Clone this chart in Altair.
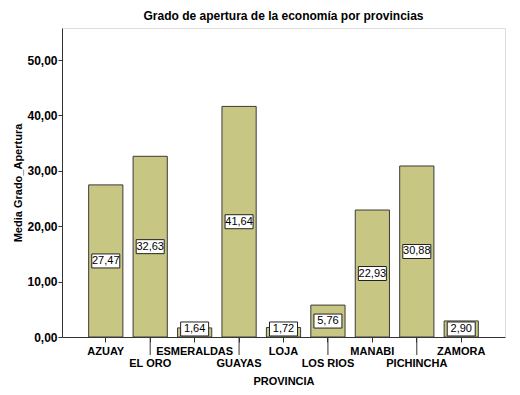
import altair as alt
import pandas as pd

categories = ["AZUAY", "EL ORO", "ESMERALDAS", "GUAYAS", "LOJA",
              "LOS RIOS", "MANABI", "PICHINCHA", "ZAMORA"]
values = [27.47, 32.63, 1.64, 41.64, 1.72, 5.76, 22.93, 30.88, 2.90]
y_ticks = [0, 10, 20, 30, 40, 50]

df = pd.DataFrame({"PROVINCIA": categories, "valor": values})
df["texto"] = df["valor"].map(lambda v: f"{v:.2f}".replace(".", ","))
df["pos"] = df["valor"].map(lambda v: max(v / 2, 1.45))

row2 = categories[1::2]
row2_list = "[" + ",".join(f"'{c}'" for c in row2) + "]"
df2 = pd.DataFrame({"PROVINCIA": row2})

FONT = "Liberation Sans"
W, H = 443, 309

xscale = alt.Scale(domain=categories, paddingInner=0.23, paddingOuter=0.6)
yscale = alt.Scale(domain=[0, 55.8], nice=False)

x_enc = alt.X(
    "PROVINCIA:N", scale=xscale, sort=categories, title="PROVINCIA",
    axis=alt.Axis(
        labelAngle=0, labelFont=FONT, labelFontSize=11, labelFontWeight="bold",
        labelColor="#000", labelBaseline="top", labelPadding=3, labelLineHeight=12,
        labelExpr=f"indexof({row2_list}, datum.value) >= 0 ? ['', datum.value] : datum.value",
        tickSize=5, tickColor="#333", domainColor="#333",
        titleFont=FONT, titleFontSize=11, titleFontWeight="bold", titleColor="#000",
        titlePadding=7, labelOverlap=False,
    ),
)

bars = alt.Chart(df).mark_bar(fill="#c8c683", stroke="#3a3a3a", strokeWidth=1).encode(
    x=x_enc,
    y=alt.Y(
        "valor:Q", scale=yscale, title="Media Grado_Apertura",
        axis=alt.Axis(
            values=y_ticks, grid=False,
            labelExpr="replace(format(datum.value, '.2f'), '.', ',')",
            labelFont=FONT, labelFontSize=12, labelFontWeight="bold", labelColor="#000",
            labelPadding=1, tickSize=4, tickColor="#333", domainColor="#333",
            titleFont=FONT, titleFontSize=11, titleFontWeight="bold", titleColor="#000",
            titlePadding=3,
        ),
    ),
)

boxes = alt.Chart(df).mark_point(
    shape="M-1,-0.5L1,-0.5L1,0.5L-1,0.5Z", size=784, filled=True,
    fill="white", stroke="#222", strokeWidth=1, opacity=1,
).encode(
    x=alt.X("PROVINCIA:N", scale=xscale, sort=categories),
    y=alt.Y("pos:Q", scale=yscale),
)

labels = alt.Chart(df).mark_text(font=FONT, fontSize=11, color="#000", baseline="middle").encode(
    x=alt.X("PROVINCIA:N", scale=xscale, sort=categories),
    y=alt.Y("pos:Q", scale=yscale),
    text="texto:N",
)

long_ticks = alt.Chart(df2).mark_rule(color="#333", strokeWidth=1).encode(
    x=alt.X("PROVINCIA:N", scale=xscale, sort=categories),
    y=alt.value(H),
    y2=alt.value(H + 18),
)

chart = alt.layer(bars, long_ticks, boxes, labels).properties(
    width=W, height=H,
    title=alt.TitleParams(
        "Grado de apertura de la economía por provincias",
        font=FONT, fontSize=12, fontWeight="bold", color="#000", offset=5,
    ),
    autosize=alt.AutoSizeParams(type="none"),
    padding={"left": 54, "top": 20, "right": 4, "bottom": 56},
).configure_view(
    fill="#ebebeb", stroke="#8a8a8a", strokeWidth=1.5,
).configure(background="white")

chart.save("out.html", embed_options={"renderer": "svg", "actions": False})
